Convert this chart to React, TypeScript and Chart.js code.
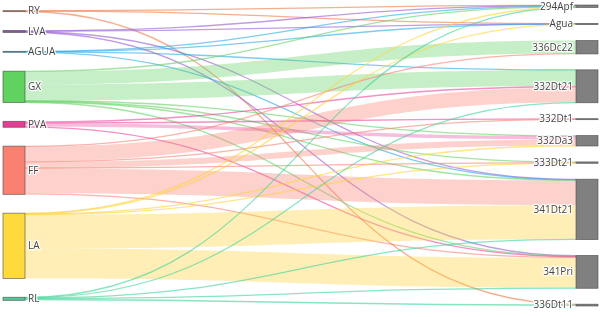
import React, { useEffect, useRef } from 'react';
import { Chart, registerables } from 'chart.js';

Chart.register(...registerables);

// ---- data ----
const sourceNodes = ['RY', 'LVA', 'AGUA', 'GX', 'PVA', 'FF', 'LA', 'RL'];
const targetNodes = ['294Apf', 'Agua', '336Dc22', '332Dt21', '332Dt1', '332Da3', '333Dt21', '341Dt21', '341Pri', '336Dt11'];

const linkSource = [
  'RY', 'RY', 'RY',
  'LVA', 'LVA', 'LVA', 'LVA',
  'AGUA', 'AGUA', 'AGUA', 'AGUA',
  'GX', 'GX', 'GX', 'GX', 'GX', 'GX', 'GX',
  'PVA', 'PVA', 'PVA', 'PVA',
  'FF', 'FF', 'FF', 'FF', 'FF', 'FF', 'FF',
  'LA', 'LA', 'LA', 'LA', 'LA', 'LA',
  'RL', 'RL', 'RL', 'RL', 'RL',
];
const linkTarget = [
  '294Apf', 'Agua', '336Dt11',
  '294Apf', 'Agua', '341Dt21', '341Pri',
  '294Apf', 'Agua', '332Dt21', '341Dt21',
  '294Apf', '336Dc22', '332Dt21', '332Da3', '333Dt21', '341Dt21', '341Pri',
  '332Dt21', '332Dt1', '332Da3', '341Pri',
  '336Dc22', '332Dt21', '332Dt1', '332Da3', '333Dt21', '341Dt21', '341Pri',
  '294Apf', 'Agua', '332Da3', '333Dt21', '341Dt21', '341Pri',
  '294Apf', '332Dt21', '341Dt21', '341Pri', '336Dt11',
];
const linkValue = [
  0.4, 0.3, 0.3,
  0.6, 0.4, 0.5, 0.5,
  0.3, 0.2, 0.2, 0.3,
  0.5, 13, 16, 0.5, 0.5, 0.5, 0.5,
  1.5, 0.5, 3.5, 0.5,
  0.5, 15, 0.5, 6, 0.5, 25, 1,
  0.4, 0.3, 0.5, 0.4, 34, 30,
  0.3, 0.4, 0.4, 0.5, 1.5,
];

// ---- styles ----
const sourceRGB = [
  [240, 120, 70],
  [150, 90, 210],
  [40, 170, 230],
  [100, 210, 100],
  [235, 70, 160],
  [250, 128, 114],
  [255, 212, 55],
  [60, 210, 150],
];
const sourceNodeRGB = [
  [240, 120, 70],
  [140, 80, 190],
  [40, 170, 230],
  [95, 210, 95],
  [230, 60, 150],
  [250, 128, 114],
  [255, 218, 60],
  [80, 200, 150],
];
const targetNodeColor = 'rgb(128,128,128)';
const NODE_PAD = 16;
const NODE_W = 22;

type NodeL = { name: string; col: number; idx: number; value: number; y0: number; y1: number };

function buildLayout() {
  const cols = [sourceNodes, targetNodes];
  const nodes: Record<string, NodeL> = {};
  cols.forEach((c, ci) => c.forEach((n, i) => {
    nodes[n] = { name: n, col: ci, idx: i, value: 0, y0: 0, y1: 0 };
  }));
  const inS: Record<string, number> = {};
  const outS: Record<string, number> = {};
  linkValue.forEach((v, i) => {
    outS[linkSource[i]] = (outS[linkSource[i]] || 0) + v;
    inS[linkTarget[i]] = (inS[linkTarget[i]] || 0) + v;
  });
  Object.values(nodes).forEach((n) => { n.value = Math.max(inS[n.name] || 0, outS[n.name] || 0); });
  const sums = cols.map((c) => c.reduce((a, n) => a + nodes[n].value, 0));
  const span = Math.max(...cols.map((c, ci) => sums[ci] + (c.length - 1) * NODE_PAD));
  cols.forEach((c, ci) => {
    const n = c.length;
    const gap = Math.max(NODE_PAD, (span - sums[ci]) / (n - 0.4));
    let y = (span - sums[ci] - (n - 1) * gap) / 2;
    c.forEach((name) => {
      const nd = nodes[name];
      nd.y0 = y; nd.y1 = y + nd.value; y = nd.y1 + gap;
    });
  });
  const links = linkValue.map((v, i) => ({
    s: nodes[linkSource[i]], t: nodes[linkTarget[i]], v, sy0: 0, ty0: 0, si: sourceNodes.indexOf(linkSource[i]),
  }));
  // source offsets ordered by target position
  sourceNodes.forEach((name) => {
    let y = nodes[name].y0;
    links.filter((l) => l.s.name === name).sort((a, b) => a.t.idx - b.t.idx).forEach((l) => { l.sy0 = y; y += l.v; });
  });
  targetNodes.forEach((name) => {
    let y = nodes[name].y0;
    links.filter((l) => l.t.name === name).sort((a, b) => a.s.idx - b.s.idx).forEach((l) => { l.ty0 = y; y += l.v; });
  });
  return { nodes, links, span };
}

export default function App() {
  const ref = useRef<HTMLCanvasElement>(null);
  useEffect(() => {
    const layout = buildLayout();
    const sankeyPlugin = {
      id: 'sankeyDraw',
      afterDatasetsDraw(chart: any) {
        const ctx = chart.ctx as CanvasRenderingContext2D;
        const xs = chart.scales.x;
        const ys = chart.scales.y;
        const py = (u: number) => ys.getPixelForValue(u);
        const xL = xs.getPixelForValue(0);
        const xR = xs.getPixelForValue(1);
        const x0 = xL + NODE_W;
        const x1 = xR - NODE_W;
        const xm = x0 + (x1 - x0) * 0.5;
        ctx.save();
        // links
        layout.links.forEach((l) => {
          const [r, g, b] = sourceRGB[l.si];
          const a0 = py(l.sy0), a1 = py(l.sy0 + l.v);
          const b0 = py(l.ty0), b1 = py(l.ty0 + l.v);
          const w = a1 - a0;
          if (w < 2.2) {
            const ca = (a0 + a1) / 2, cb = (b0 + b1) / 2;
            ctx.beginPath();
            ctx.moveTo(x0, ca);
            ctx.bezierCurveTo(xm, ca, xm, cb, x1, cb);
            ctx.lineWidth = Math.max(w, 1.3);
            ctx.strokeStyle = `rgba(${r},${g},${b},0.6)`;
            ctx.stroke();
          } else {
            ctx.beginPath();
            ctx.moveTo(x0, a0);
            ctx.bezierCurveTo(xm, a0, xm, b0, x1, b0);
            ctx.lineTo(x1, b1);
            ctx.bezierCurveTo(xm, b1, xm, a1, x0, a1);
            ctx.closePath();
            ctx.fillStyle = `rgba(${r},${g},${b},0.36)`;
            ctx.fill();
          }
        });
        // nodes
        Object.values(layout.nodes).forEach((n) => {
          const top = py(n.y0);
          let h = py(n.y1) - top;
          let t = top;
          if (h < 1) { t = top + h / 2 - 0.5; h = 1; }
          const x = n.col === 0 ? xL : xR - NODE_W;
          ctx.fillStyle = n.col === 0 ? `rgb(${sourceNodeRGB[n.idx].join(',')})` : targetNodeColor;
          ctx.fillRect(x, t, NODE_W, h);
          ctx.lineWidth = 0.8;
          ctx.strokeStyle = 'rgba(68,68,68,0.7)';
          ctx.strokeRect(x, t, NODE_W, h);
        });
        // labels
        ctx.font = '10px "Open Sans"';
        ctx.textBaseline = 'middle';
        ctx.lineJoin = 'round';
        Object.values(layout.nodes).forEach((n) => {
          const cy = (py(n.y0) + py(n.y1)) / 2 + 0.5;
          let tx: number;
          if (n.col === 0) { ctx.textAlign = 'left'; tx = xL + NODE_W + 3; }
          else { ctx.textAlign = 'right'; tx = xR - NODE_W - 3; }
          ctx.strokeStyle = 'rgba(255,255,255,0.9)';
          ctx.lineWidth = 2.5;
          ctx.strokeText(n.name, tx, cy);
          ctx.fillStyle = '#444';
          ctx.fillText(n.name, tx, cy);
        });
        ctx.restore();
      },
    };
    const chart = new Chart(ref.current as HTMLCanvasElement, {
      type: 'scatter',
      data: { datasets: [] },
      options: {
        animation: false,
        responsive: true,
        maintainAspectRatio: false,
        layout: { padding: { left: 3, right: 9, top: 5, bottom: 11 } },
        scales: {
          x: { type: 'linear', min: 0, max: 1, display: false },
          y: { type: 'linear', min: 0, max: layout.span, reverse: true, display: false },
        },
        plugins: { legend: { display: false }, tooltip: { enabled: false } },
      },
      plugins: [sankeyPlugin],
    } as any);
    return () => chart.destroy();
  }, []);
  return (
    <div style={{ position: 'fixed', left: 0, top: 0, width: 607, height: 317, background: '#fff' }}>
      <canvas ref={ref} />
    </div>
  );
}
